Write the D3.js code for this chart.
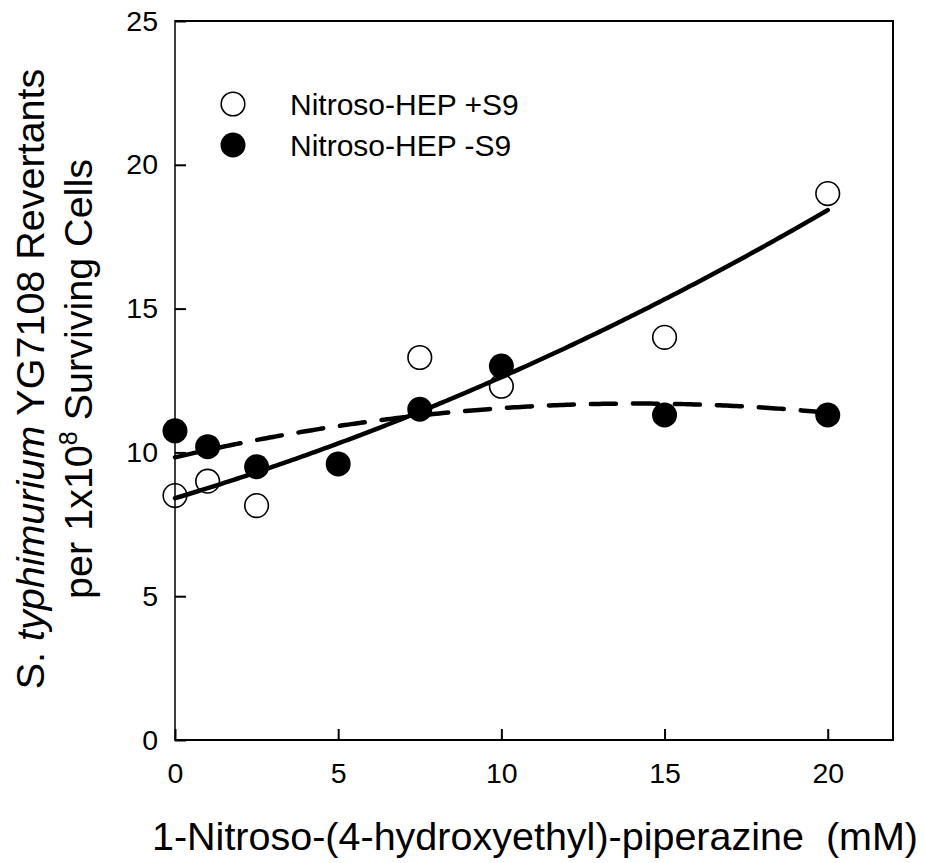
<!DOCTYPE html>
<html>
<head>
<meta charset="utf-8">
<script src="https://cdn.jsdelivr.net/npm/d3@7"></script>
<style>
  html, body { margin: 0; padding: 0; background: #fff; }
  svg { display: block; font-family: Arial, "Liberation Sans", sans-serif; }
</style>
</head>
<body>
<svg id="chart" width="925" height="863"></svg>
<script>
// Concentrations (mM) and revertant counts per 1x10^8 surviving cells
const concPlusS9 = [0, 1, 2.5, 7.5, 10, 15, 20];
const revPlusS9 = [8.5, 9.0, 8.15, 13.3, 12.3, 14.0, 19.0];
const concMinusS9 = [0, 1, 2.5, 5, 7.5, 10, 15, 20];
const revMinusS9 = [10.75, 10.2, 9.5, 9.6, 11.5, 13.0, 11.3, 11.3];
const xTicks = [0, 5, 10, 15, 20];
const yTicks = [0, 5, 10, 15, 20, 25];
const seriesNames = ["Nitroso-HEP +S9", "Nitroso-HEP -S9"];

const svg = d3.select("#chart");
const plotLeft = 175, plotRight = 893, plotTop = 21, plotBottom = 740;

const x = d3.scaleLinear().domain([0, 22]).range([plotLeft, plotRight]);
const y = d3.scaleLinear().domain([0, 25]).range([plotBottom, plotTop]);

// Second-order least-squares fit y = a + b x + c x^2
function quadFit(xs, ys) {
  const S = k => d3.sum(xs, v => Math.pow(v, k));
  const T = k => d3.sum(xs.map((v, i) => Math.pow(v, k) * ys[i]));
  const M = [[S(0), S(1), S(2), T(0)],
             [S(1), S(2), S(3), T(1)],
             [S(2), S(3), S(4), T(2)]];
  for (let i = 0; i < 3; i++) {
    for (let j = i + 1; j < 3; j++) {
      const f = M[j][i] / M[i][i];
      for (let k = i; k < 4; k++) M[j][k] -= f * M[i][k];
    }
  }
  const r = [0, 0, 0];
  for (let i = 2; i >= 0; i--) {
    let s = M[i][3];
    for (let k = i + 1; k < 3; k++) s -= M[i][k] * r[k];
    r[i] = s / M[i][i];
  }
  return v => r[0] + r[1] * v + r[2] * v * v;
}

const fitPlus = quadFit(concPlusS9, revPlusS9);
const fitMinus = quadFit(concMinusS9, revMinusS9);
const xs = d3.range(0, 20.001, 0.1);
const line = d3.line().x(d => x(d[0])).y(d => y(d[1]));

// Fitted curves
svg.append("path")
  .attr("d", line(xs.map(v => [v, fitMinus(v)])))
  .attr("fill", "none").attr("stroke", "#000")
  .attr("stroke-width", 4.5).attr("stroke-linecap", "round")
  .attr("stroke-dasharray", "25,17");
svg.append("path")
  .attr("d", line(xs.map(v => [v, fitPlus(v)])))
  .attr("fill", "none").attr("stroke", "#000")
  .attr("stroke-width", 4.5).attr("stroke-linecap", "round");

// Frame: bottom, right and top edges, with a lighter left axis line
svg.append("path")
  .attr("d", `M${plotLeft},${plotBottom}H${plotRight}V${plotTop}H${plotLeft}`)
  .attr("fill", "none").attr("stroke", "#000").attr("stroke-width", 2);
svg.append("line")
  .attr("x1", plotLeft).attr("x2", plotLeft)
  .attr("y1", plotTop - 1).attr("y2", plotBottom + 1)
  .attr("stroke", "#000").attr("stroke-width", 1.5);

// Axes with inward ticks
const xAxis = d3.axisBottom(x).tickValues(xTicks).tickSize(-11).tickPadding(23).tickSizeOuter(0);
const yAxis = d3.axisLeft(y).tickValues(yTicks).tickSize(-11).tickPadding(17).tickSizeOuter(0);
const gx = svg.append("g").attr("transform", `translate(0,${plotBottom})`).call(xAxis);
const gy = svg.append("g").attr("transform", `translate(${plotLeft},0)`).call(yAxis);
[gx, gy].forEach(g => {
  g.select(".domain").remove();
  g.selectAll(".tick line").attr("stroke", "#000").attr("stroke-width", 2);
  g.selectAll(".tick text").attr("fill", "#000")
    .style("font-size", "28.5px").style("font-family", "Arial, 'Liberation Sans', sans-serif");
});

// Data points
svg.append("g").selectAll("circle")
  .data(concMinusS9.map((c, i) => [c, revMinusS9[i]]))
  .join("circle")
  .attr("cx", d => x(d[0])).attr("cy", d => y(d[1])).attr("r", 12.5)
  .attr("fill", "#000");
svg.append("g").selectAll("circle")
  .data(concPlusS9.map((c, i) => [c, revPlusS9[i]]))
  .join("circle")
  .attr("cx", d => x(d[0])).attr("cy", d => y(d[1])).attr("r", 11.8)
  .attr("fill", "none").attr("stroke", "#000").attr("stroke-width", 1.6);

// Legend
const legend = svg.append("g");
const legRows = [{ name: seriesNames[0], filled: false, cy: 104 },
                 { name: seriesNames[1], filled: true, cy: 145 }];
legRows.forEach(r => {
  legend.append("circle").attr("cx", 233).attr("cy", r.cy)
    .attr("r", r.filled ? 12.5 : 11.8)
    .attr("fill", r.filled ? "#000" : "#fff")
    .attr("stroke", "#000").attr("stroke-width", r.filled ? 0 : 1.6);
  legend.append("text").attr("x", 290).attr("y", r.cy + 11)
    .style("font-size", "30px").text(r.name);
});

// Axis titles
svg.append("text")
  .attr("x", 535).attr("y", 850)
  .attr("text-anchor", "middle")
  .style("font-size", "39.5px").style("white-space", "pre")
  .text("1-Nitroso-(4-hydroxyethyl)-piperazine  (mM)");

const yTitle = svg.append("text")
  .attr("transform", "translate(0,379) rotate(-90)")
  .attr("text-anchor", "middle")
  .style("font-size", "39.5px");
const l1 = yTitle.append("tspan").attr("x", 0).attr("y", 43.5);
l1.append("tspan").text("S. ");
l1.append("tspan").style("font-style", "italic").text("typhimurium");
l1.append("tspan").text(" YG7108 Revertants");
const l2 = yTitle.append("tspan").attr("x", 0).attr("y", 92);
l2.append("tspan").text("per 1x10");
l2.append("tspan").attr("dy", -15).style("font-size", "25px").text("8");
l2.append("tspan").attr("dy", 15).text(" Surviving Cells");
</script>
</body>
</html>
